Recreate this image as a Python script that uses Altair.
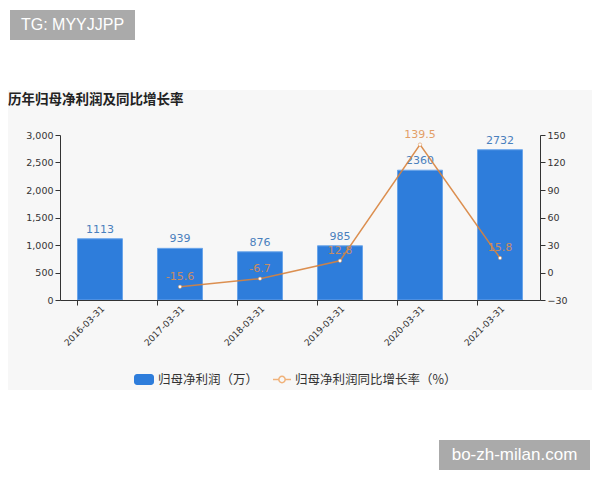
import altair as alt
import pandas as pd

dates = ["2016-03-31", "2017-03-31", "2018-03-31", "2019-03-31", "2020-03-31", "2021-03-31"]
profit = [1113, 939, 876, 985, 2360, 2732]
growth = [None, -15.6, -6.7, 12.8, 139.5, 15.8]
growth_labels = ["", "-15.6", "-6.7", "12.8", "139.5", "15.8"]
left_ticks = [0, 500, 1000, 1500, 2000, 2500, 3000]
right_ticks = [-30, 0, 30, 60, 90, 120, 150]

title_text = "历年归母净利润及同比增长率"
legend_bar = "归母净利润（万）"
legend_line = "归母净利润同比增长率（%）"
wm1 = "TG: MYYJJPP"
wm2 = "bo-zh-milan.com"

df = pd.DataFrame({"date": dates, "profit": profit})
dg = pd.DataFrame({"date": dates[1:], "growth": growth[1:], "label": growth_labels[1:]})
one = pd.DataFrame({"a": [0]})

CJK = "Noto Sans CJK SC"
NUM = "DejaVu Sans"
AX = "#333333"
BLUE = "#2e7ddb"
ORANGE = "#d8833d"

xscale = alt.Scale(paddingInner=0.4375, paddingOuter=0.21875)

# decorations
bg = alt.Chart(one).mark_rect(color="#f7f7f7").encode(
    x=alt.value(-52), x2=alt.value(532), y=alt.value(-45), y2=alt.value(255))
wm1_box = alt.Chart(one).mark_rect(color="#aaaaaa").encode(
    x=alt.value(-50), x2=alt.value(75), y=alt.value(-125), y2=alt.value(-95))
wm1_txt = alt.Chart(one).mark_text(color="white", font="Liberation Sans", fontSize=16,
                                   align="center", baseline="middle").encode(
    x=alt.value(12.5), y=alt.value(-110), text=alt.value(wm1))
wm2_box = alt.Chart(one).mark_rect(color="#aaaaaa").encode(
    x=alt.value(379), x2=alt.value(530), y=alt.value(305), y2=alt.value(335))
wm2_txt = alt.Chart(one).mark_text(color="white", font="Liberation Sans", fontSize=17,
                                   align="center", baseline="middle").encode(
    x=alt.value(454.5), y=alt.value(320), text=alt.value(wm2))
title = alt.Chart(one).mark_text(color="#222222", font=CJK, fontSize=13.5, fontWeight="bold",
                                 align="left", baseline="middle").encode(
    x=alt.value(-52), y=alt.value(-35), text=alt.value(title_text))

leg_rect = alt.Chart(one).mark_rect(color=BLUE, cornerRadius=3).encode(
    x=alt.value(74), x2=alt.value(94), y=alt.value(239), y2=alt.value(250))
leg_txt1 = alt.Chart(one).mark_text(color=AX, font=CJK, fontSize=12.5, align="left",
                                    baseline="middle").encode(
    x=alt.value(98), y=alt.value(244.5), text=alt.value(legend_bar))
leg_rule = alt.Chart(one).mark_rule(color="#f0b27a", strokeWidth=1.5).encode(
    x=alt.value(213), x2=alt.value(231), y=alt.value(244.5))
leg_pt = alt.Chart(one).mark_point(color="#f0b27a", fill="#f7f7f7", filled=False, size=40,
                                   opacity=1, strokeWidth=1.5).encode(
    x=alt.value(222), y=alt.value(244.5))
leg_txt2 = alt.Chart(one).mark_text(color=AX, font=CJK, fontSize=12.5, align="left",
                                    baseline="middle").encode(
    x=alt.value(235), y=alt.value(244.5), text=alt.value(legend_line))

x_label_axis = alt.Axis(labelAngle=-45, labelFont=NUM, labelFontSize=9, labelColor=AX,
                        ticks=False, domain=False, labelPadding=4, zindex=1,
                        orient="bottom", labelOverlap=False)
y_left_axis = alt.Axis(values=left_ticks, format=",d", labelFont=NUM, labelFontSize=9.5,
                       labelColor=AX, domainColor=AX, tickColor=AX, grid=False,
                       tickSize=5, labelPadding=2, zindex=1, labelOverlap=False,
                       orient="left")
y_right_axis = alt.Axis(orient="right", values=right_ticks, format="d", labelFont=NUM,
                        labelFontSize=9.5, labelColor=AX, domainColor=AX,
                        tickColor=AX, grid=False, tickSize=5, labelPadding=2, zindex=1,
                        labelOverlap=False)
x_tick_axis = alt.Axis(bandPosition=0, labels=False, domainColor=AX, tickColor=AX,
                       tickSize=5, zindex=1, orient="bottom")

ldom = alt.Scale(domain=[0, 3000], nice=False)
rdom = alt.Scale(domain=[-30, 150], nice=False)

bars = alt.Chart(df).mark_bar(color=BLUE, stroke="#6aa5ea", strokeWidth=1).encode(
    x=alt.X("date:N", sort=dates, scale=xscale, title=None, axis=x_label_axis),
    y=alt.Y("profit:Q", scale=ldom, title=None, axis=y_left_axis),
)
bar_labels = alt.Chart(df).mark_text(color="#4a80bd", font=NUM, fontSize=11,
                                     baseline="bottom", dy=-4).encode(
    x=alt.X("date:N", sort=dates, scale=xscale, title=None, axis=x_label_axis),
    y=alt.Y("profit:Q", scale=ldom, title=None, axis=y_left_axis),
    text=alt.Text("profit:Q", format="d"),
)

left = alt.layer(bg, wm1_box, wm1_txt, wm2_box, wm2_txt, title,
                 leg_rect, leg_txt1, leg_rule, leg_pt, leg_txt2, bars, bar_labels)

xline = alt.X("date:N", sort=dates, scale=xscale, title=None, axis=x_tick_axis)
yright = alt.Y("growth:Q", scale=rdom, title=None, axis=y_right_axis)

line = alt.Chart(dg).mark_line(color=ORANGE, strokeWidth=1.5, strokeOpacity=0.9).encode(
    x=xline, y=yright)
pts = alt.Chart(dg).mark_point(filled=True, fill="white", stroke=ORANGE, strokeOpacity=0.6,
                               size=12, opacity=1, strokeWidth=0.8).encode(
    x=xline, y=yright)
line_labels = alt.Chart(dg).mark_text(color="#e0904f", opacity=0.85, font=NUM, fontSize=11,
                                      baseline="bottom", dy=-5).encode(
    x=xline, y=yright, text="label:N")

right = alt.layer(line, pts, line_labels)

chart = alt.layer(left, right).resolve_scale(y="independent").resolve_axis(
    x="independent").properties(
    width=480, height=165,
    autosize=alt.AutoSizeParams(type="none"),
    padding={"left": 52, "top": 127, "right": 52, "bottom": 172},
    background="white",
).configure_view(stroke=None)

chart.save("out.html", embed_options={"renderer": "svg", "actions": False})
